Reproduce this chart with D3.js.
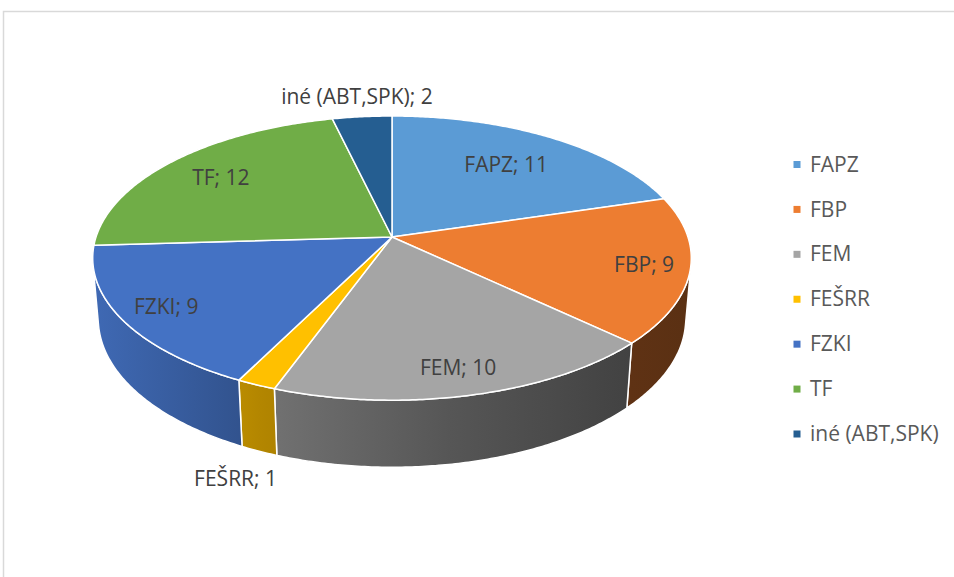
<!DOCTYPE html>
<html>
<head>
<meta charset="utf-8">
<script src="https://cdn.jsdelivr.net/npm/d3@7"></script>
<style>
  html, body { margin: 0; padding: 0; background: #fff; }
  svg { display: block; }
  text { font-family: "Open Sans", "Liberation Sans", sans-serif; }
</style>
</head>
<body>
<svg id="chart" width="954" height="577"></svg>
<script>
// ---- data ----
const categories = ["FAPZ", "FBP", "FEM", "FEŠRR", "FZKI", "TF", "iné (ABT,SPK)"];
const values = [11, 9, 10, 1, 9, 12, 2];
const colors = ["#5B9BD5", "#ED7D31", "#A5A5A5", "#FFC000", "#4472C4", "#70AD47", "#255E91"];

// ---- layout / projection parameters ----
const W = 954, H = 577;
const cx = 392, cy = 237;          // screen position of pie apex
const R = 1, D = 5.95, F = 1761;   // perspective camera
const phi = 28 * Math.PI / 180;    // elevation
const h = 0.235;                   // thickness
const sinP = Math.sin(phi), cosP = Math.cos(phi);

function proj(a, rho, Y) {
  const X = rho * R * Math.sin(a);
  const Z = -rho * R * Math.cos(a);
  const up = Y * cosP - Z * sinP;
  const depth = D - Y * sinP - Z * cosP;
  return [cx + F * X / depth, cy - F * up / depth];
}

const svg = d3.select("#chart");

// chart area border
svg.append("rect")
  .attr("x", 3.5).attr("y", 11.5).attr("width", 1200).attr("height", 1200)
  .attr("fill", "none").attr("stroke", "#d9d9d9").attr("stroke-width", 1.5);

const pie = d3.pie().sort(null).value(d => d.v).startAngle(0).endAngle(2 * Math.PI);
const data = categories.map((c, i) => ({ c, v: values[i], col: colors[i] }));
const arcs = pie(data);

// wall shading gradients (lighter on the left, darker on the right)
const shade = d3.scaleLinear().domain([93, 260, 450, 630, 691]).range([0.92, 0.70, 0.52, 0.40, 0.38]);
const defs = svg.append("defs");
arcs.forEach((d, i) => {
  const g = defs.append("linearGradient")
    .attr("id", "wall" + i).attr("gradientUnits", "userSpaceOnUse")
    .attr("x1", 93).attr("x2", 691).attr("y1", 0).attr("y2", 0);
  const base = d3.rgb(d.data.col);
  shade.domain().forEach(x => {
    const f = shade(x);
    g.append("stop")
      .attr("offset", ((x - 93) / (691 - 93)))
      .attr("stop-color", d3.rgb(base.r * f, base.g * f, base.b * f).formatHex());
  });
});

const line = d3.line();
function arcPts(a0, a1, rho, Y) {
  const n = Math.max(2, Math.ceil(Math.abs(a1 - a0) / 0.01));
  const pts = [];
  for (let k = 0; k <= n; k++) pts.push(proj(a0 + (a1 - a0) * k / n, rho, Y));
  return pts;
}

// visible wall range
const aMin = Math.acos(-R / (D * cosP));
const aMax = 2 * Math.PI - aMin;

const walls = svg.append("g");
arcs.forEach((d, i) => {
  const a0 = Math.max(d.startAngle, aMin), a1 = Math.min(d.endAngle, aMax);
  if (a1 <= a0) return;
  const top = arcPts(a0, a1, 1, 0);
  const bot = arcPts(a1, a0, 1, -h);
  walls.append("path")
    .attr("d", line(top.concat(bot)) + "Z")
    .attr("fill", `url(#wall${i})`)
    .attr("stroke", "#fff").attr("stroke-width", 1.5).attr("stroke-linejoin", "round");
});

const tops = svg.append("g");
arcs.forEach((d, i) => {
  const pts = [proj(0, 0, 0)].concat(arcPts(d.startAngle, d.endAngle, 1, 0));
  tops.append("path")
    .attr("d", line(pts) + "Z")
    .attr("fill", d.data.col)
    .attr("stroke", "#fff").attr("stroke-width", 1.5).attr("stroke-linejoin", "round");
});

// data labels
const labelRho = [0.70, 0.85, 0.85, 1.15, 0.85, 0.77, 1.2];
const labelY = [0, 0, 0, -h, 0, 0, 0];
const labels = svg.append("g")
  .attr("font-size", 21).attr("fill", "#404040").attr("text-anchor", "middle");
arcs.forEach((d, i) => {
  const mid = (d.startAngle + d.endAngle) / 2;
  const p = proj(mid, labelRho[i], labelY[i]);
  labels.append("text")
    .attr("x", p[0]).attr("y", p[1]).attr("dy", "0.35em")
    .text(`${d.data.c}; ${d.data.v}`);
});

// legend
const legY = d3.scalePoint().domain(categories).range([164.5, 434]);
const leg = svg.append("g");
categories.forEach((c, i) => {
  const y = legY(c);
  leg.append("rect")
    .attr("x", 793.5).attr("y", y - 3.5).attr("width", 7).attr("height", 7)
    .attr("fill", colors[i]);
  leg.append("text")
    .attr("x", 810).attr("y", y).attr("dy", "0.34em")
    .attr("font-size", 21).attr("fill", "#595959")
    .text(c);
});
</script>
</body>
</html>
